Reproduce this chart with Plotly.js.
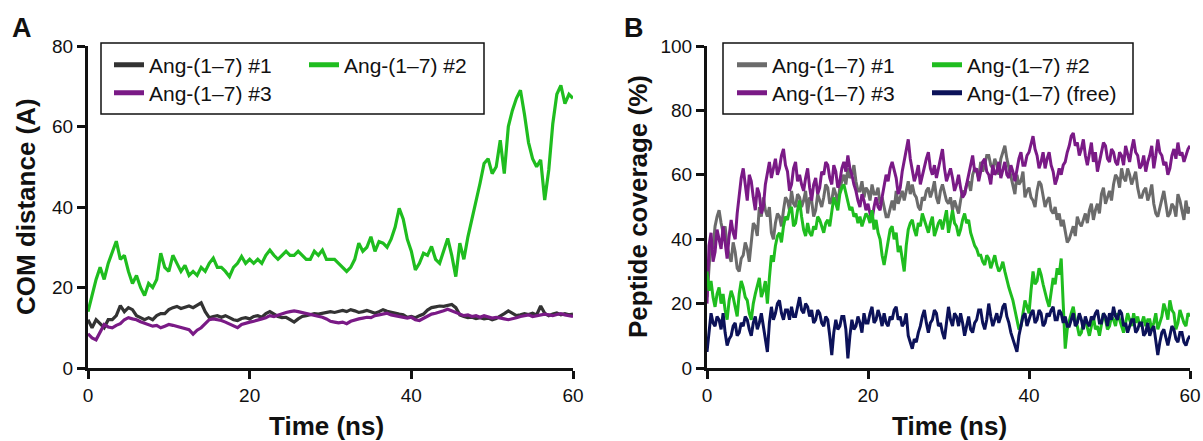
<!DOCTYPE html>
<html>
<head>
<meta charset="utf-8">
<script src="https://cdn.plot.ly/plotly-3.0.1.min.js"></script>
<style>
html,body{margin:0;padding:0;background:#ffffff;}
#chart{width:1203px;height:441px;}
</style>
</head>
<body>
<div id="chart"></div>
<script>
// ---------- DATA ----------
const timeEndNs = 60;
const stepA = 0.5;   // panel A sampled every 0.5 ns
const stepB = 0.25;  // panel B sampled every 0.25 ns

// Panel A: COM distance (Å)
const comAng1 = [12,10,12,11,10,12,12,13,15.5,14,
  15,14.5,13,12.5,12,12.5,12,13,13.5,13.5,
  14.5,15,15.3,14.8,15,15.4,15,15.6,16.2,14,
  12.5,12.8,13,12.6,13,12.5,12,11.8,12.3,12.5,
  12.2,12.8,13,12.6,13.5,14,13.4,12.8,12.5,12.6,
  12,11.4,12.2,12.8,13,13.3,13.5,13.4,13.6,13.8,
  14,13.8,14.1,14.3,14,14.5,14.2,13.8,14,14.3,
  14,13.6,14,14.5,14.1,13.8,13.5,13.4,13.2,12.6,
  12.8,12.5,13,13.4,14.4,15,15.2,15.4,15.3,15.6,
  15.8,15,13.2,12.8,12.5,12.6,12.3,12.5,12.2,12.4,
  12,12.3,12.8,13.5,14.2,13.6,13,13.2,13.5,13.3,
  13.6,13.2,15.4,13.6,13,13.4,13.7,13.2,13.5,13.2,
  13.4];
const comAng2 = [14,18,22,25,22,26,29,31.5,27,28,
  24,21,23,20,18,21,20,22,28.5,25,
  24,28,26,24,25.5,23,24,23,25,24,
  26,27.3,25,25,24,22.7,25,26,27.7,26,
  27,26,27,26,28,29.3,28,27,28,29,
  28,28,29,28,27,27,29,28,29.3,27,
  27,27,26,25,24,25,27,31,29,30,
  32.6,29,31.4,31,30,32,35,39.7,37,32,
  29,24.4,26,28.5,28,30.2,27,26,29.3,32.2,
  28,22.7,31,27,32.6,36.8,41.7,45.9,50.8,52,
  48.3,50,56.6,48.3,60,64,67,69,63,56,
  52,50,51.7,41.7,49.2,60.7,68,70.2,65.7,68,
  67];
const comAng3 = [8.5,7.5,7,9,10.8,10.2,10,10.6,11,12,
  12.5,12.2,12,11.5,11.2,10.8,10.4,10.6,10,10.4,
  10.8,10.6,10.3,10,9.8,9.5,8.4,9.4,10,11,
  12,12.2,12,11.8,11.4,11,10.4,10,10.8,11.2,
  11.4,11.6,12,12.2,12.5,13,12.8,13.2,13.5,13.8,
  14,14.2,14,13.8,13.6,13.4,13.2,13,12.6,12.2,
  11.6,11.4,11.2,11.4,11,11.6,12,12.2,12.4,12.6,
  12.5,13,13.2,13.4,13.6,13.2,13,12.8,12.6,12.4,
  12.6,12,11.8,12.4,13,13.4,13.6,13.8,14.2,14.6,
  14.2,13.6,13.2,13,13.2,12.8,13,12.6,13,12.7,
  12.4,12.6,12.3,12.2,12,12.2,12.5,12.8,13,13.2,
  12.8,13,13.2,13.4,13.2,13,13.3,13.5,13.2,13,
  12.8];

// Panel B: peptide coverage (%)
const covAng1 = [22,33,40,37,44,47,49,45,42,44,38,35,33,39,36,31,30,34,35,39,
  37,33,40,45,44,41,50,47,53,49,47,50,42,40,45,48,47,44,49,53,
  52,49,55,51,50,54,53,50,52,55,48,53,52,47,49,54,52,50,53,57,
  56,51,52,56,54,51,56,58,60,57,62,59,60,63,58,55,55,58,53,56,
  55,52,57,54,54,56,51,53,50,47,47,50,52,49,55,51,53,55,52,55,
  58,54,57,54,53,50,49,53,52,55,56,53,55,58,53,51,55,57,54,52,
  51,53,49,52,50,48,52,55,54,57,58,55,60,62,61,59,64,61,63,66,
  66,63,62,65,63,60,65,67,69,65,62,59,57,54,60,57,58,61,53,55,
  56,53,52,50,55,58,57,54,50,52,53,49,48,50,46,48,44,46,42,39,
  40,42,44,41,47,45,44,46,48,45,49,51,46,49,51,48,54,56,51,53,
  55,52,57,60,59,56,62,59,58,62,60,57,59,61,56,53,53,55,56,52,
  54,57,51,48,47,50,53,55,51,47,48,51,50,47,54,52,49,46,52,48,
  50];
const covAng2 = [30,24,27,22,19,23,25,20,23,18,15,21,24,22,19,16,23,27,25,22,
  21,17,15,20,23,26,28,22,24,27,20,28,35,33,38,41,42,39,44,47,
  46,49,50,44,45,49,52,47,43,41,45,42,41,44,43,47,46,44,42,45,
  46,44,49,53,51,49,54,56,57,54,52,49,50,47,48,45,47,44,46,48,
  47,45,49,43,46,42,40,35,32,36,40,43,44,40,42,36,38,34,30,38,
  43,45,46,43,41,45,44,48,46,44,42,45,47,41,43,45,46,43,46,49,
  42,46,49,45,44,41,43,46,48,45,46,42,40,38,37,35,35,33,32,35,
  34,31,33,35,32,30,31,33,30,27,25,23,21,18,15,12,13,17,21,19,
  17,24,30,26,27,31,29,26,23,21,19,24,28,26,31,29,34,20,6,12,
  15,17,19,15,13,10,11,14,15,12,10,13,16,12,13,10,14,17,15,12,
  13,16,15,13,17,15,13,11,14,17,15,13,17,14,16,13,14,16,13,15,
  15,12,14,17,12,14,16,20,18,15,21,18,17,12,14,18,16,14,13,17,
  16];
const covAng3 = [20,38,42,33,36,43,40,37,44,39,34,41,46,42,40,48,54,59,62,56,
  52,60,58,53,49,56,54,48,50,57,61,64,59,62,65,60,62,66,68,63,
  61,55,57,62,64,58,60,57,55,59,62,56,52,57,59,54,56,61,60,64,
  63,59,57,63,61,56,58,62,64,61,66,62,60,57,55,52,50,54,52,49,
  51,48,46,50,53,50,49,53,56,60,58,62,64,61,59,54,56,61,64,68,
  71,65,62,58,60,63,57,60,62,65,67,62,60,63,59,62,65,68,62,58,
  60,62,59,55,57,60,56,53,54,57,60,63,66,61,62,58,61,64,65,61,
  60,57,63,60,61,64,59,62,64,60,59,63,61,58,62,65,67,63,63,66,
  67,70,72,68,66,62,64,67,62,65,67,63,61,57,59,62,60,63,64,67,
  69,72,73,69,70,66,68,71,66,63,67,70,64,67,61,64,66,70,69,65,
  64,68,67,64,63,67,66,63,69,66,64,68,71,67,66,62,63,66,61,64,
  66,69,62,66,71,67,66,63,64,60,62,66,68,65,70,66,67,64,66,68,
  69];
const covFree = [5,12,17,14,13,16,15,12,17,11,7,9,10,13,14,10,11,14,13,16,
  15,12,10,14,16,12,14,17,13,9,5,14,19,15,17,20,21,17,15,18,
  18,15,19,16,16,19,22,18,17,20,19,16,18,14,15,18,17,14,13,16,
  15,10,4,11,15,12,13,16,16,12,3,10,15,12,13,16,14,11,17,14,
  14,17,19,14,15,18,16,13,17,14,13,16,15,18,19,15,16,13,14,17,
  10,8,6,9,8,11,13,16,18,14,11,14,15,18,17,13,14,11,9,14,
  19,15,13,17,16,13,17,14,10,13,16,12,11,14,15,18,18,14,12,15,
  20,16,13,15,17,14,16,19,20,16,14,11,9,7,5,10,13,16,17,13,
  15,17,18,14,15,18,17,13,14,17,16,18,19,15,15,18,17,14,16,13,
  13,15,17,13,14,17,15,12,16,14,13,16,15,17,18,14,14,17,16,13,
  17,15,19,16,15,18,17,13,14,11,13,15,15,11,12,14,14,10,11,14,
  10,12,13,8,4,8,11,12,9,7,10,13,12,9,8,11,11,8,7,9,
  10];

const seriesNames = ['Ang-(1\u20137) #1','Ang-(1\u20137) #2','Ang-(1\u20137) #3','Ang-(1\u20137) (free)'];
const xTicks = [0,20,40,60];
const yTicksA = [0,20,40,60,80];
const yTicksB = [0,20,40,60,80,100];

// sampling grids
function grid(step) {
  const t = [];
  for (let i = 0; i * step <= timeEndNs + 1e-9; i++) t.push(i * step);
  return t;
}
const timeA = grid(stepA);
const timeB = grid(stepB);

// ---------- STYLE ----------
const W = 1203, H = 441;
const FONT = 'Arial, "Liberation Sans", Helvetica, sans-serif';
const C_DARK = '#333333', C_GRAY = '#6b6b6b', C_GREEN = '#1fbd1f', C_PURPLE = '#7a1a86', C_NAVY = '#0c1259';
const px = p => p / W;
const py = p => 1 - p / H;

function line(x, y, color, w, xa, ya) {
  return {x: x, y: y, type: 'scatter', mode: 'lines', line: {color: color, width: w},
          xaxis: xa, yaxis: ya, showlegend: false, hoverinfo: 'skip'};
}
function key(name, color, legend, rank, xa, ya) {
  return {x: [null], y: [null], type: 'scatter', mode: 'lines', name: name,
          line: {color: color, width: 5}, legend: legend, legendrank: rank,
          xaxis: xa, yaxis: ya, showlegend: true, hoverinfo: 'skip'};
}

const data = [
  line(timeA, comAng1, C_DARK, 3.2, 'x', 'y'),
  line(timeA, comAng3, C_PURPLE, 3.2, 'x', 'y'),
  line(timeA, comAng2, C_GREEN, 3.2, 'x', 'y'),
  line(timeB, covAng1, C_GRAY, 3, 'x2', 'y2'),
  line(timeB, covAng3, C_PURPLE, 3, 'x2', 'y2'),
  line(timeB, covAng2, C_GREEN, 3, 'x2', 'y2'),
  line(timeB, covFree, C_NAVY, 3, 'x2', 'y2'),
  key(seriesNames[0], C_DARK, 'legend', 1, 'x', 'y'),
  key(seriesNames[1], C_GREEN, 'legend', 2, 'x', 'y'),
  key(seriesNames[2], C_PURPLE, 'legend2', 3, 'x', 'y'),
  key(seriesNames[0], C_GRAY, 'legend3', 1, 'x2', 'y2'),
  key(seriesNames[1], C_GREEN, 'legend3', 2, 'x2', 'y2'),
  key(seriesNames[2], C_PURPLE, 'legend4', 3, 'x2', 'y2'),
  key(seriesNames[3], C_NAVY, 'legend4', 4, 'x2', 'y2')
];

function xAxis(domain, anchor) {
  return {domain: domain, anchor: anchor, range: [0, 60], tickvals: xTicks,
          showline: true, linecolor: '#111', linewidth: 3, ticks: 'outside',
          ticklen: 8, tickwidth: 3, tickcolor: '#111', showgrid: false, zeroline: false,
          tickfont: {family: FONT, size: 19, color: '#111'}, fixedrange: true};
}
function yAxis(domain, anchor, range, vals) {
  return {domain: domain, anchor: anchor, range: range, tickvals: vals,
          showline: true, linecolor: '#111', linewidth: 3, ticks: 'outside',
          ticklen: 8, tickwidth: 3, tickcolor: '#111', showgrid: false, zeroline: false,
          tickfont: {family: FONT, size: 19, color: '#111'}, fixedrange: true};
}
function legendAt(xp, yp) {
  return {x: px(xp), y: py(yp), xanchor: 'left', yanchor: 'middle', orientation: 'h',
          entrywidth: 150, entrywidthmode: 'pixels', itemwidth: 30,
          bgcolor: 'rgba(0,0,0,0)', borderwidth: 0, traceorder: 'normal',
          font: {family: FONT, size: 21, color: '#111'}};
}
const yDom = [py(368), py(46)];

const layout = {
  width: W, height: H, margin: {l: 0, r: 0, t: 0, b: 0},
  paper_bgcolor: '#ffffff', plot_bgcolor: '#ffffff', showlegend: true,
  xaxis: xAxis([px(88), px(573)], 'y'),
  yaxis: yAxis(yDom, 'x', [0, 80], yTicksA),
  xaxis2: xAxis([px(707), px(1190)], 'y2'),
  yaxis2: yAxis(yDom, 'x2', [0, 100], yTicksB),
  legend: legendAt(109, 65),
  legend2: legendAt(109, 93),
  legend3: legendAt(732, 65),
  legend4: legendAt(732, 93),
  shapes: [
    {type: 'rect', xref: 'paper', yref: 'paper', x0: px(101), x1: px(484), y0: py(114), y1: py(43),
     line: {color: '#111', width: 1.5}, fillcolor: 'rgba(0,0,0,0)'},
    {type: 'rect', xref: 'paper', yref: 'paper', x0: px(723), x1: px(1133), y0: py(114), y1: py(43),
     line: {color: '#111', width: 1.5}, fillcolor: 'rgba(0,0,0,0)'}
  ],
  annotations: [
    {text: '<b>A</b>', xref: 'paper', yref: 'paper', x: px(22), y: py(28), showarrow: false,
     xanchor: 'center', yanchor: 'middle', font: {family: FONT, size: 27, color: '#111'}},
    {text: '<b>B</b>', xref: 'paper', yref: 'paper', x: px(634), y: py(28), showarrow: false,
     xanchor: 'center', yanchor: 'middle', font: {family: FONT, size: 27, color: '#111'}},
    {text: '<b>COM distance (A)</b>', xref: 'paper', yref: 'paper', x: px(26), y: py(207), textangle: -90,
     showarrow: false, xanchor: 'center', yanchor: 'middle', font: {family: FONT, size: 26, color: '#111'}},
    {text: '<b>Peptide coverage (%)</b>', xref: 'paper', yref: 'paper', x: px(638), y: py(207), textangle: -90,
     showarrow: false, xanchor: 'center', yanchor: 'middle', font: {family: FONT, size: 26, color: '#111'}},
    {text: '<b>Time (ns)</b>', xref: 'paper', yref: 'paper', x: px(326), y: py(426),
     showarrow: false, xanchor: 'center', yanchor: 'middle', font: {family: FONT, size: 26, color: '#111'}},
    {text: '<b>Time (ns)</b>', xref: 'paper', yref: 'paper', x: px(949), y: py(426),
     showarrow: false, xanchor: 'center', yanchor: 'middle', font: {family: FONT, size: 26, color: '#111'}}
  ]
};

Plotly.newPlot('chart', data, layout, {staticPlot: true, displayModeBar: false, responsive: false});
</script>
</body>
</html>
